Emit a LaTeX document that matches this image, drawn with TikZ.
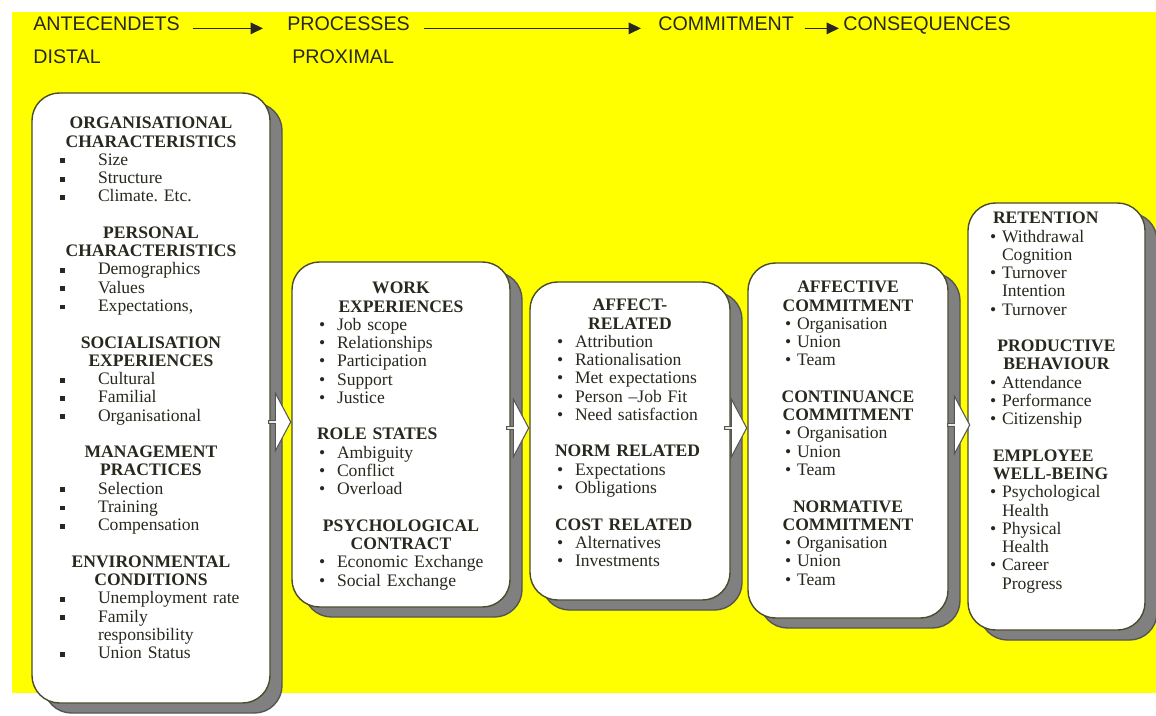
\documentclass[tikz,border=0pt]{standalone}
\usepackage{fontspec}
\setmainfont{Liberation Serif}
\newfontfamily\headfont{Liberation Sans}
\usepackage{tikz}
\usetikzlibrary{positioning,fit,shadows,shapes.arrows,arrows.meta}

\definecolor{bgyellow}{RGB}{255,255,0}
\definecolor{inkdark}{RGB}{40,40,30}
\definecolor{frameline}{RGB}{75,75,45}
\definecolor{shadegray}{RGB}{128,128,128}
\definecolor{shadeline}{RGB}{85,85,85}

\newlength{\bulx}
\newlength{\txtx}
\newlength{\lhx}
\newcommand{\bul}{\textbullet}
\newcommand{\cenhd}[1]{{\centering\bfseries #1\par}}
\newcommand{\lefthd}[1]{{\hspace*{\lhx}\bfseries #1\par}}
\newcommand{\itm}[1]{\hangindent=\txtx\hangafter=1\noindent\hspace*{\bulx}\makebox[\dimexpr\txtx-\bulx\relax][l]{\bul}#1\par}
\newcommand{\gap}{\vskip\baselineskip}

\begin{document}
\begin{tikzpicture}[x=0.02cm, y=-0.02cm,
	panel/.style={draw=frameline, line width=0.8pt, fill=white, rounded corners=0.55cm, inner sep=0pt,
		general shadow={fill=shadegray, draw=shadeline, shadow xshift=0.24cm, shadow yshift=-0.2cm}},
	paneltext/.style={inner sep=0pt, anchor=north, align=left, text=inkdark,
		font=\fontsize{10}{10.4}\selectfont, execute at begin node={\setlength{\parindent}{0pt}}},
	hdtext/.style={inner sep=0pt, anchor=base west, text=inkdark, font=\headfont\fontsize{11.2}{13}\selectfont},
	hdarrow/.style={draw=inkdark, line width=0.9pt, -{Triangle[length=7pt,width=6.5pt]}},
	blockarrow/.style={single arrow, draw=shadeline, fill=white, line width=0.6pt, minimum height=0.44cm,
		minimum width=1.15cm, single arrow head extend=0.2cm, single arrow tip angle=124, inner sep=0pt, anchor=tip}]
	%\draw[help lines] (0,0) grid[step=50] (1156,716);
	\useasboundingbox (0,0) rectangle (1156,716);
	\fill[bgyellow] (12,12) rectangle (1156,693);

	% header row
	\node[hdtext] (ante) at (33,31) {ANTECENDETS};
	\node[hdtext] (proc) at (287,31) {PROCESSES};
	\node[hdtext] (comm) at (658,31) {COMMITMENT};
	\node[hdtext] (cons) at (843,31) {CONSEQUENCES};
	\node[hdtext] (dist) at (33,64) {DISTAL};
	\node[hdtext] (prox) at (292,64) {PROXIMAL};
	\draw[hdarrow, shorten <=0.25cm, shorten >=0.48cm] ([yshift=1.5pt]ante.base east) -- ([yshift=1.5pt]proc.base west);
	\draw[hdarrow, shorten <=0.27cm, shorten >=0.34cm] ([yshift=1.5pt]proc.base east) -- ([yshift=1.5pt]comm.base west);
	\draw[hdarrow, shorten <=0.21cm, shorten >=0.08cm] ([yshift=1.5pt]comm.base east) -- ([yshift=1.5pt]cons.base west);

	% panels
	\node[panel, fit={(32,93) (270,703)}] (org) {};
	\node[panel, fit={(292,262) (510,607)}] (work) {};
	\node[panel, fit={(530,282) (730,600)}] (affect) {};
	\node[panel, fit={(748,263) (948,618)}] (commit) {};
	\node[panel, fit={(968,203) (1145,630)}] (conseq) {};

	\node[paneltext, text width=3.96cm, below=0.49cm of org.north] (orgtxt) {%
		\renewcommand{\bul}{\rule[0.25ex]{0.28em}{0.28em}}%
		\setlength{\bulx}{0.16cm}\setlength{\txtx}{0.92cm}%
		\cenhd{ORGANISATIONAL\\CHARACTERISTICS}%
		\itm{Size}\itm{Structure}\itm{Climate.\ Etc.}\gap
		\cenhd{PERSONAL\\CHARACTERISTICS}%
		\itm{Demographics}\itm{Values}\itm{Expectations,}\gap
		\cenhd{SOCIALISATION\\EXPERIENCES}%
		\itm{Cultural}\itm{Familial}\itm{Organisational}\gap
		\cenhd{MANAGEMENT\\PRACTICES}%
		\itm{Selection}\itm{Training}\itm{Compensation}\gap
		\cenhd{ENVIRONMENTAL\\CONDITIONS}%
		\itm{Unemployment rate}\itm{Family\newline responsibility}\itm{Union Status}};

	\node[paneltext, text width=3.56cm, below=0.41cm of work.north] (worktxt) {%
		\setlength{\bulx}{0.14cm}\setlength{\txtx}{0.5cm}\setlength{\lhx}{0.1cm}%
		\cenhd{WORK\\EXPERIENCES}%
		\itm{Job scope}\itm{Relationships}\itm{Participation}\itm{Support}\itm{Justice}\gap
		\lefthd{ROLE STATES}%
		\itm{Ambiguity}\itm{Conflict}\itm{Overload}\gap
		\cenhd{PSYCHOLOGICAL\\CONTRACT}%
		\itm{Economic Exchange}\itm{Social Exchange}};

	\node[paneltext, text width=3.2cm, below=0.35cm of affect.north] (affecttxt) {%
		\setlength{\bulx}{0.14cm}\setlength{\txtx}{0.5cm}\setlength{\lhx}{0.1cm}%
		\cenhd{AFFECT-\\RELATED}%
		\itm{Attribution}\itm{Rationalisation}\itm{Met expectations}\itm{Person --Job Fit}\itm{Need satisfaction}\gap
		\lefthd{NORM RELATED}%
		\itm{Expectations}\itm{Obligations}\gap
		\lefthd{COST RELATED}%
		\itm{Alternatives}\itm{Investments}};

	\node[paneltext, text width=3.2cm, below=0.37cm of commit.north] (committxt) {%
		\setlength{\bulx}{0.34cm}\setlength{\txtx}{0.58cm}%
		\cenhd{AFFECTIVE\\COMMITMENT}%
		\itm{Organisation}\itm{Union}\itm{Team}\gap
		\cenhd{CONTINUANCE\\COMMITMENT}%
		\itm{Organisation}\itm{Union}\itm{Team}\gap
		\cenhd{NORMATIVE\\COMMITMENT}%
		\itm{Organisation}\itm{Union}\itm{Team}};

	\node[paneltext, text width=2.74cm, below=0.19cm of conseq.north] (conseqtxt) {%
		\setlength{\bulx}{0.04cm}\setlength{\txtx}{0.28cm}\setlength{\lhx}{0.1cm}%
		\lefthd{RETENTION}%
		\itm{Withdrawal\newline Cognition}\itm{Turnover\newline Intention}\itm{Turnover}\gap
		\cenhd{PRODUCTIVE\\BEHAVIOUR}%
		\itm{Attendance}\itm{Performance}\itm{Citizenship}\gap
		\lefthd{EMPLOYEE\\\hspace*{\lhx}WELL-BEING}%
		\itm{Psychological\newline Health}\itm{Physical\newline Health}\itm{Career\newline Progress}};

	% block arrows between panels
	\node[blockarrow] (a1) at (work.west |- 0,422) {};
	\node[blockarrow] (a2) at (affect.west |- 0,428) {};
	\node[blockarrow] (a3) at (commit.west |- 0,428) {};
	\node[blockarrow] (a4) at ([xshift=0.06cm]conseq.west |- 0,425) {};
\end{tikzpicture}
\end{document}
